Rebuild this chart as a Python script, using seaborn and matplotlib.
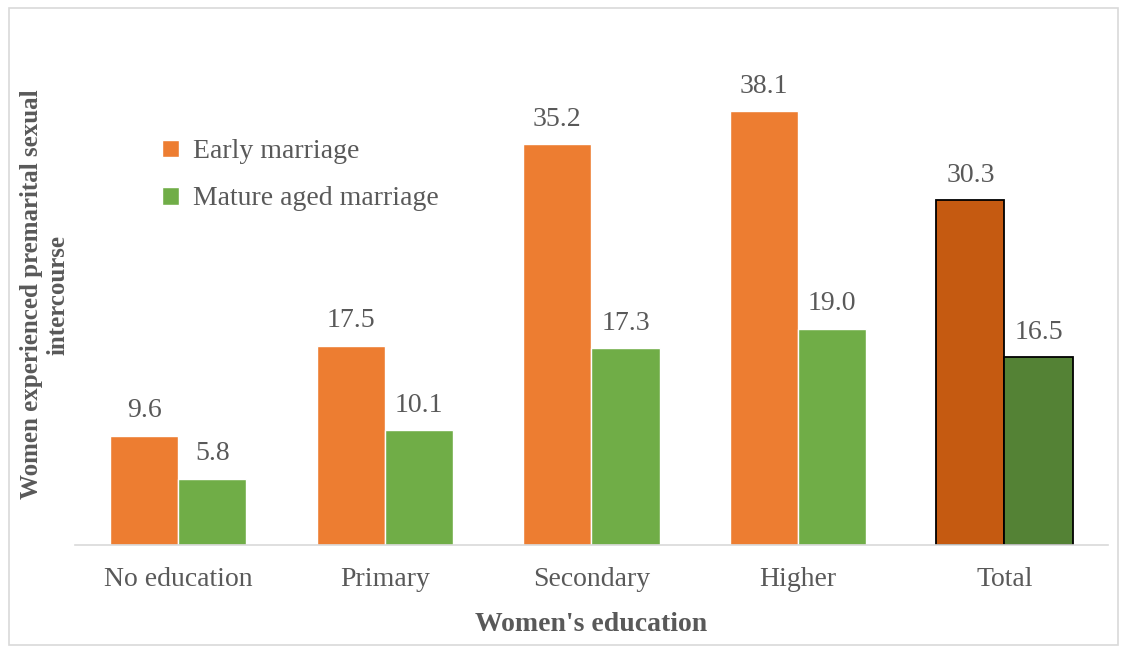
import pandas as pd
import matplotlib.pyplot as plt
import seaborn as sns
from matplotlib.patches import Rectangle

categories = ["No education", "Primary", "Secondary", "Higher", "Total"]
early = [9.6, 17.5, 35.2, 38.1, 30.3]
mature = [5.8, 10.1, 17.3, 19.0, 16.5]
groups = ["Early marriage", "Mature aged marriage"]

df = pd.DataFrame({
    "education": categories * 2,
    "value": early + mature,
    "group": [groups[0]] * len(categories) + [groups[1]] * len(categories),
})

sns.set_style("white")
plt.rcParams["font.family"] = ["Liberation Serif", "DejaVu Serif"]
text_color = "#595959"

fig = plt.figure(figsize=(11.28, 6.53), dpi=100)
ax = fig.add_axes([0.0665, 0.1654, 0.9155, 0.767])

sns.barplot(data=df, x="education", y="value", hue="group",
            palette=["#ED7D31", "#70AD47"], width=0.66, saturation=1,
            ax=ax, legend=True)

# darker Total bars with black outline
dark = {groups[0]: "#C55A11", groups[1]: "#548235"}
for cont, g in zip(ax.containers, groups):
    bar = cont.patches[-1]
    bar.set_facecolor(dark[g])
    bar.set_edgecolor("black")
    bar.set_linewidth(1.3)
    ax.bar_label(cont, fmt="%.1f", padding=9, fontsize=20, color=text_color)

ax.set_xlim(-0.5, 4.5)
ax.set_ylim(0, 44)
ax.set_yticks([])
for s in ["top", "left", "right"]:
    ax.spines[s].set_visible(False)
ax.spines["bottom"].set_color("#D9D9D9")
ax.spines["bottom"].set_linewidth(1.2)
ax.tick_params(axis="x", length=0, pad=16, labelsize=20, labelcolor=text_color)

ax.set_xlabel("Women's education", fontsize=20, fontweight="bold",
              color=text_color, labelpad=14)
ax.set_ylabel("Women experienced premarital sexual\nintercourse", fontsize=18,
              fontweight="bold", color=text_color, labelpad=4)

leg = ax.legend(loc="upper left", bbox_to_anchor=(0.06, 0.86), frameon=False,
                fontsize=20, labelcolor=text_color, handlelength=0.6,
                handleheight=0.6, handletextpad=0.5, labelspacing=0.8)

fig.patches.append(Rectangle((9 / 1128, 8 / 653), 1109 / 1128, 637 / 653,
                             transform=fig.transFigure, fill=False,
                             edgecolor="#D9D9D9", linewidth=1.2))

plt.savefig("out.png", dpi=100)
plt.close()
